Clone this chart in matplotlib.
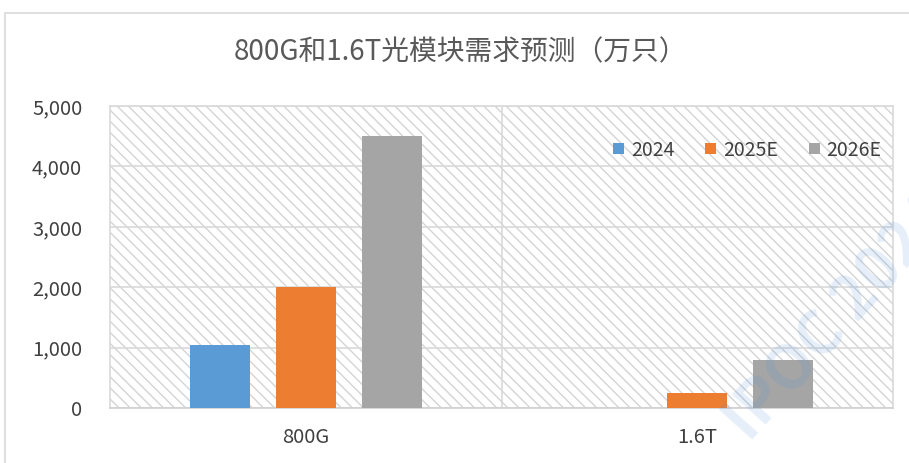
import matplotlib.pyplot as plt
import numpy as np
from matplotlib.patches import Rectangle
from matplotlib.ticker import FuncFormatter

plt.rcParams['font.family'] = ['Noto Sans CJK SC', 'DejaVu Sans']
plt.rcParams['hatch.color'] = '#d4d4d4'
plt.rcParams['hatch.linewidth'] = 1.0

categories = ['800G', '1.6T']
series = ['2024', '2025E', '2026E']
values_2024 = [1040, 0]
values_2025 = [2000, 250]
values_2026 = [4500, 800]
colors = ['#5b9bd5', '#ed7d31', '#a5a5a5']

fig = plt.figure(figsize=(9.09, 4.63), dpi=100)
ax = fig.add_axes([110 / 909, 55 / 463, 783 / 909, 302 / 463])

# chart area border
fig.patches.append(Rectangle((5 / 909, -0.1), 1.2, (463 - 13) / 463 + 0.1,
                             transform=fig.transFigure, fill=False,
                             edgecolor='#d9d9d9', linewidth=1.2))

# hatched plot background
ax.add_patch(Rectangle((0, 0), 1, 1, transform=ax.transAxes, facecolor='white',
                       hatch='\\\\\\', edgecolor='#d4d4d4', linewidth=0, zorder=0))

x = np.arange(len(categories))
width = 0.153
step = 0.22
for i, (name, vals) in enumerate(zip(series, [values_2024, values_2025, values_2026])):
    ax.bar(x + (i - 1) * step, vals, width, color=colors[i], label=name, zorder=3)

ax.set_xlim(-0.5, 1.5)
ax.set_ylim(0, 5000)
ax.set_yticks(range(0, 5001, 1000))
ax.yaxis.set_major_formatter(FuncFormatter(lambda v, p: f'{int(v):,}'))
ax.set_xticks(x)
ax.set_xticklabels(categories)
ax.tick_params(axis='y', length=0, labelsize=14.5, labelcolor='#404040', pad=20)
ax.tick_params(axis='x', length=0, labelsize=14.5, labelcolor='#404040', pad=14)

ax.grid(axis='y', color='#d9d9d9', linewidth=1.2, zorder=1)
ax.axvline(0.5, color='#d9d9d9', linewidth=1.2, zorder=1)
for side in ['top', 'right', 'left']:
    ax.spines[side].set_color('#d9d9d9')
    ax.spines[side].set_linewidth(1.2)
ax.spines['bottom'].set_color('#d0d0d0')
ax.spines['bottom'].set_linewidth(1.2)
ax.set_axisbelow(True)

fig.text(461 / 909, 1 - 52 / 463, '800G和1.6T光模块需求预测（万只）', ha='center', va='center',
         fontsize=20, color='#595959', fontweight='light')

ax.legend(loc='center right', bbox_to_anchor=(1.0, 1 - 44 / 302), ncol=3, frameon=False,
          fontsize=14, handlelength=0.55, handleheight=0.55, handletextpad=0.35,
          columnspacing=1.6, labelcolor='#404040', borderaxespad=0.2)

# faint watermark
fig.text(838 / 909, 1 - 318 / 463, 'IPOC 2024', rotation=48, ha='center', va='center',
         rotation_mode='anchor', fontsize=44, color='#4a90d9', alpha=0.14,
         fontweight='bold')

fig.savefig('out.png', dpi=100)
